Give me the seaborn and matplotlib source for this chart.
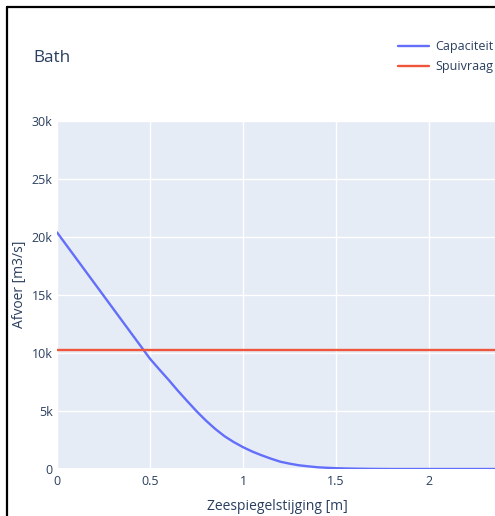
import numpy as np
import pandas as pd
import matplotlib
matplotlib.use("Agg")
import matplotlib.pyplot as plt
from matplotlib.lines import Line2D
import seaborn as sns

# Sea-level rise [m] and discharge values [m3/s]
zeespiegelstijging = [0.0, 0.1, 0.2, 0.3, 0.4, 0.5, 0.55, 0.6, 0.65, 0.7, 0.75,
                      0.8, 0.85, 0.9, 0.95, 1.0, 1.05, 1.1, 1.15, 1.2, 1.25,
                      1.3, 1.35, 1.4, 1.45, 1.5, 1.55, 1.6, 1.7, 1.8, 1.9, 2.0,
                      2.1, 2.2, 2.3, 2.4]
capaciteit = [20400, 18220, 16040, 13860, 11680, 9500, 8580, 7680, 6740, 5850, 4980,
              4180, 3460, 2830, 2320, 1880, 1500, 1180, 890, 630, 460,
              320, 230, 150, 105, 70, 45, 30, 10, 0, 0, 0,
              0, 0, 0, 0]
spuivraag = [10280] * len(zeespiegelstijging)

series_names = ["Capaciteit", "Spuivraag"]
x_ticks = [0, 0.5, 1, 1.5, 2]
x_tick_labels = ["0", "0.5", "1", "1.5", "2"]
y_ticks = [0, 5000, 10000, 15000, 20000, 25000, 30000]
y_tick_labels = ["0", "5k", "10k", "15k", "20k", "25k", "30k"]

df = pd.DataFrame({
    "x": zeespiegelstijging * 2,
    "y": capaciteit + spuivraag,
    "serie": [series_names[0]] * len(zeespiegelstijging) + [series_names[1]] * len(zeespiegelstijging),
})

sns.set_style("white")
plt.rcParams["font.family"] = ["Open Sans", "DejaVu Sans"]
text_color = "#2a3f5f"

fig = plt.figure(figsize=(4.95, 5.16), dpi=100)
ax = fig.add_axes([57 / 495, 1 - 469 / 516, 441 / 495, 348 / 516])
ax.set_facecolor("#E5ECF6")

sns.lineplot(data=df, x="x", y="y", hue="serie",
             palette={"Capaciteit": "#636efa", "Spuivraag": "#EF553B"},
             linewidth=1.7, ax=ax, legend=False, zorder=3)

ax.set_xlim(0, 2.37)
ax.set_ylim(0, 30000)
ax.set_xticks(x_ticks)
ax.set_xticklabels(x_tick_labels)
ax.set_yticks(y_ticks)
ax.set_yticklabels(y_tick_labels)
ax.grid(True, color="white", linewidth=1.0, zorder=0)
ax.axhline(0, color="white", linewidth=2, zorder=1)
ax.set_axisbelow(True)
for s in ax.spines.values():
    s.set_visible(False)
ax.tick_params(axis="both", length=0, labelsize=9, labelcolor=text_color)
ax.tick_params(axis="x", pad=4)
ax.tick_params(axis="y", pad=3)

ax.set_xlabel("Zeespiegelstijging [m]", fontsize=10, color=text_color, labelpad=8)
ax.set_ylabel("Afvoer [m3/s]", fontsize=10, color=text_color)
ax.yaxis.set_label_coords(-0.068, 0.53)

fig.text(33 / 495, 1 - 58 / 516, "Bath", fontsize=12.3, color=text_color,
         ha="left", va="center")

# Legend in the top right corner
handles = [Line2D([], [], color="#636efa", linewidth=1.7),
           Line2D([], [], color="#EF553B", linewidth=1.7)]
fig.legend(handles, series_names, loc="upper left",
           bbox_to_anchor=(393 / 495, 1 - 35 / 516), frameon=False,
           fontsize=9, handlelength=2.5, handletextpad=0.45, labelspacing=0.55,
           labelcolor=text_color, borderaxespad=0)

# Outer frame lines along the top and left edges
fig.add_artist(Line2D([7 / 495, 1.0], [1 - 7 / 516, 1 - 7 / 516],
                      transform=fig.transFigure, color="black", linewidth=1.6))
fig.add_artist(Line2D([7 / 495, 7 / 495], [0, 1 - 7 / 516],
                      transform=fig.transFigure, color="black", linewidth=1.6))

fig.savefig("out.png", dpi=100)
